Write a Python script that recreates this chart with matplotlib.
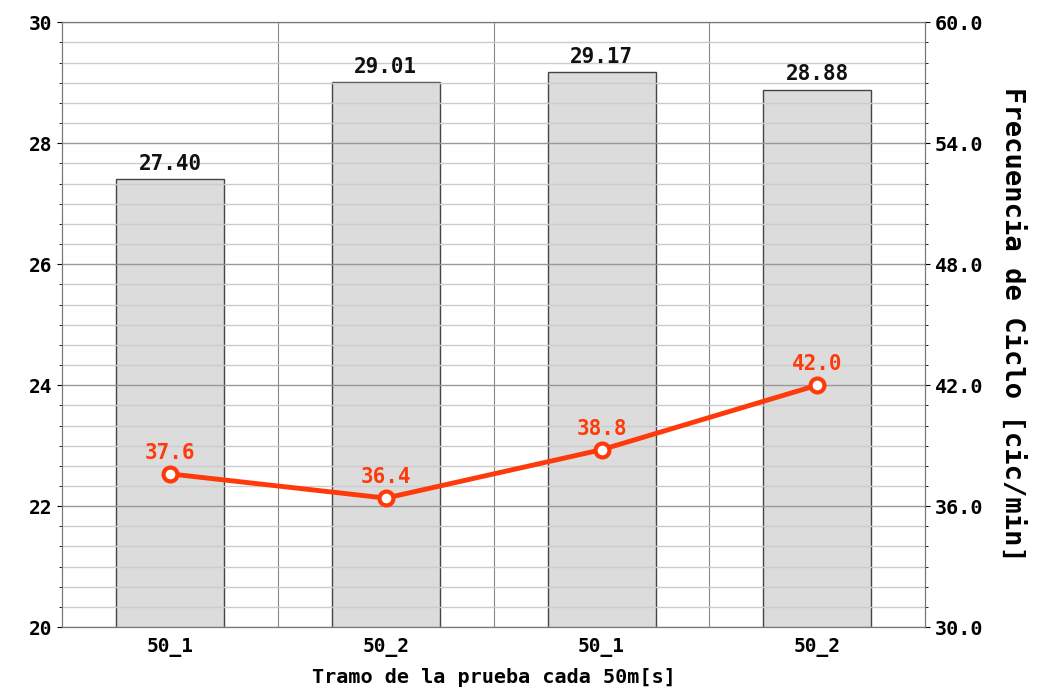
import matplotlib
matplotlib.use("Agg")
import matplotlib.pyplot as plt
from matplotlib.ticker import MultipleLocator, AutoMinorLocator

# data
tramos = ["50_1", "50_2", "50_1", "50_2"]
tiempos = [27.40, 29.01, 29.17, 28.88]
frecuencia = [37.6, 36.4, 38.8, 42.0]

plt.rcParams['font.family'] = ['DejaVu Sans Mono']
plt.rcParams['font.weight'] = 'bold'

fig, ax = plt.subplots(figsize=(10.55, 6.93), dpi=100)
fig.subplots_adjust(left=0.059, right=0.877, top=0.968, bottom=0.095)

x = list(range(len(tramos)))
bars = ax.bar(x, tiempos, width=0.5, color="#dcdcdc", edgecolor="#444444",
              linewidth=1.0, zorder=0.5)
for xi, v in zip(x, tiempos):
    ax.annotate("%.2f" % v, (xi, v), xytext=(0, 4), textcoords="offset points",
                ha="center", va="bottom", fontsize=15, color="#111111")

ax.set_xlim(-0.5, 3.5)
ax.set_ylim(20, 30)
ax.set_xticks(x)
ax.set_xticklabels(tramos, fontsize=14)
ax.xaxis.set_minor_locator(plt.FixedLocator([0.5, 1.5, 2.5]))
ax.yaxis.set_major_locator(MultipleLocator(2))
ax.yaxis.set_minor_locator(AutoMinorLocator(6))
ax.tick_params(axis="y", labelsize=14)
ax.tick_params(axis="x", which="minor", length=0)
ax.tick_params(axis="x", which="major", length=0, pad=8)
ax.grid(True, axis="y", which="major", color="#999999", linewidth=1.0)
ax.grid(True, axis="y", which="minor", color="#cccccc", linewidth=1.0)
ax.grid(True, axis="x", which="minor", color="#888888", linewidth=0.8)
ax.set_axisbelow(False)
ax.set_xlabel("Tramo de la prueba cada 50m[s]", fontsize=14.5,
              fontweight="bold", labelpad=7.5)
for s in ax.spines.values():
    s.set_color("#777777")

ax2 = ax.twinx()
ax2.set_ylim(30, 60)
ax2.yaxis.set_major_locator(MultipleLocator(6))
ax2.yaxis.set_minor_locator(MultipleLocator(1))
ax2.yaxis.set_major_formatter(plt.FormatStrFormatter("%.1f"))
ax2.tick_params(axis="y", labelsize=14.5)
ax2.plot(x, frecuencia, color="#ff3a0a", linewidth=3.5, marker="o",
         markersize=10, markerfacecolor="white", markeredgecolor="#ff3a0a",
         markeredgewidth=3, zorder=5)
for xi, v in zip(x, frecuencia):
    ax2.annotate("%.1f" % v, (xi, v), xytext=(0, 8), textcoords="offset points",
                 ha="center", va="bottom", fontsize=15, color="#ff3a0a")
ax2.set_ylabel("Frecuencia de Ciclo [cic/min]", fontsize=19.5, rotation=270,
               fontweight="bold", labelpad=30)
for s in ax2.spines.values():
    s.set_color("#777777")

fig.savefig("out.png", dpi=100)
